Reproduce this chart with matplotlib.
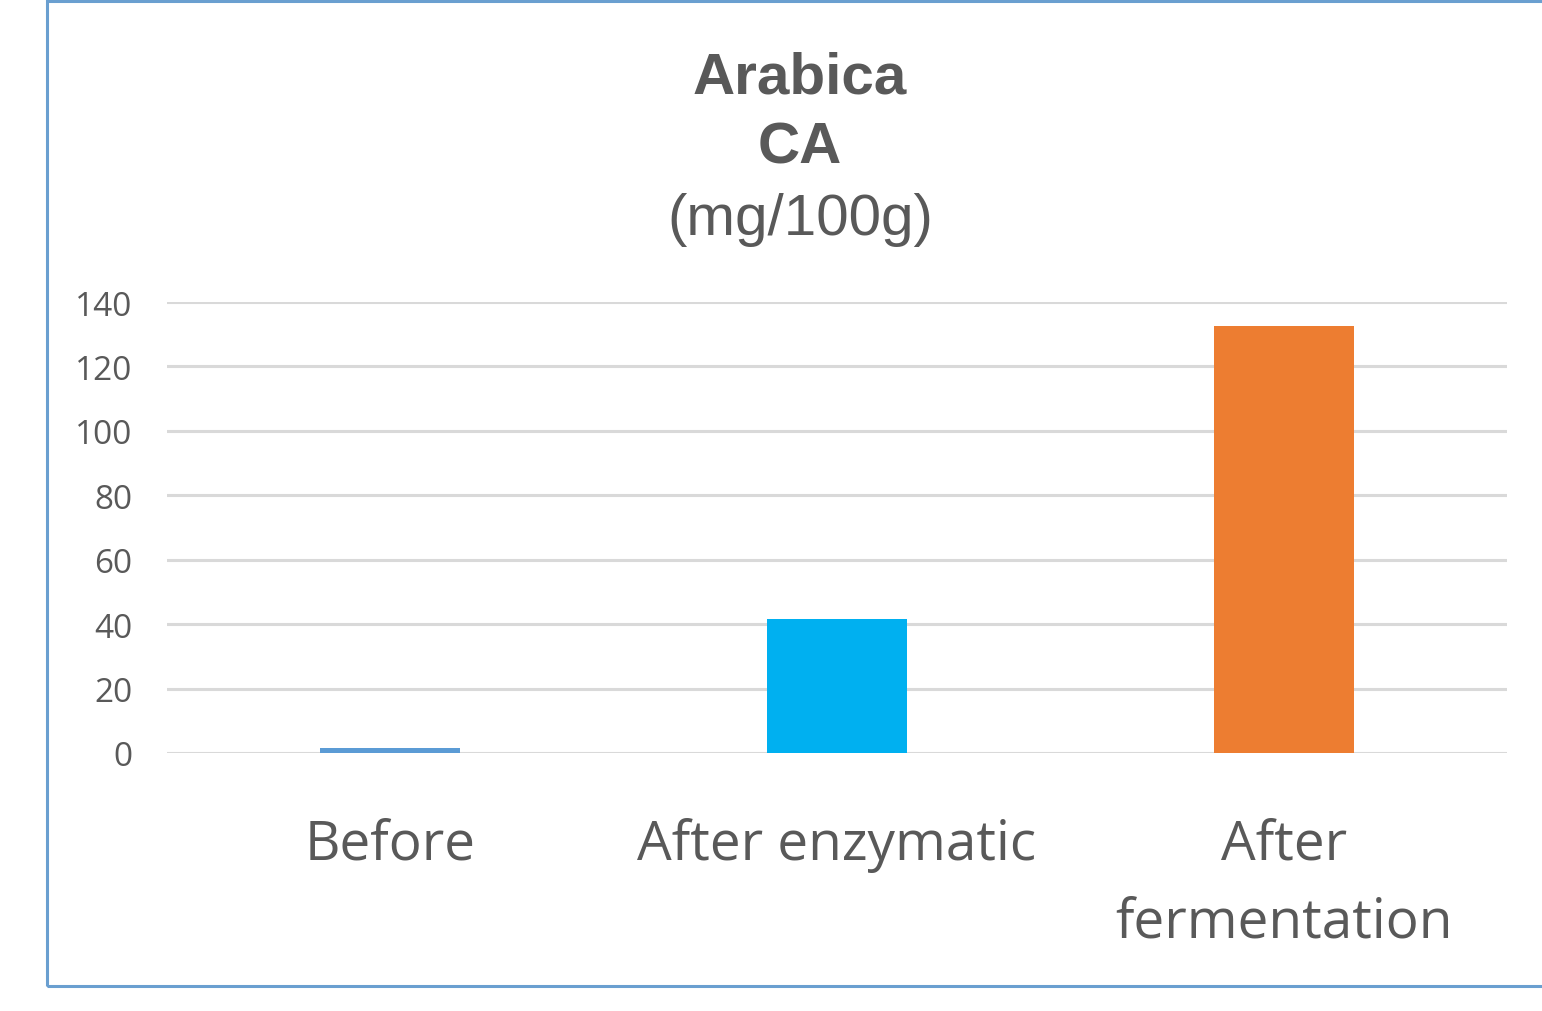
import matplotlib
matplotlib.use("Agg")
import matplotlib.pyplot as plt
from matplotlib.patches import Rectangle

categories = ["Before", "After enzymatic", "After\nfermentation"]
values = [1.5, 41.6, 132.6]
bar_colors = ["#5B9BD5", "#00B0F0", "#ED7D31"]
yticks = [0, 20, 40, 60, 80, 100, 120, 140]

text_color = "#595959"
grid_color = "#D9D9D9"

fig = plt.figure(figsize=(15.42, 10.12), dpi=100)

# chart border (the right side runs off the picture)
fig.patches.append(Rectangle((47 / 1542, 1 - 987 / 1012), 1.1, (987 - 2) / 1012,
                             transform=fig.transFigure, fill=False,
                             edgecolor="#6A9FD0", linewidth=2.2))

ax = fig.add_axes([167 / 1542, 1 - 754 / 1012, (1507 - 167) / 1542, (754 - 303) / 1012])
x = range(len(categories))
ax.bar(x, values, width=0.313, color=bar_colors, zorder=3)
ax.set_xlim(-0.5, len(categories) - 0.5)
ax.set_ylim(0, 140)
ax.set_yticks(yticks)
ax.set_xticks(list(x))
ax.set_xticklabels(categories, fontfamily="Open Sans", fontsize=39.5,
                   color=text_color, linespacing=1.55)
ax.set_yticklabels([str(t) for t in yticks], fontfamily="Open Sans",
                   fontsize=24, color=text_color)
ax.tick_params(axis="x", length=0, pad=46)
ax.tick_params(axis="y", length=0, pad=25)
ax.grid(axis="y", color=grid_color, linewidth=2.2, zorder=0)
for s in ax.spines.values():
    s.set_visible(False)

# title in three lines
fig.text(800 / 1542, 1 - 93 / 1012, "Arabica", ha="center", va="baseline",
         fontfamily="Liberation Sans", fontweight="bold", fontsize=42, color=text_color)
fig.text(800 / 1542, 1 - 163 / 1012, "CA", ha="center", va="baseline",
         fontfamily="Liberation Sans", fontweight="bold", fontsize=42, color=text_color)
fig.text(800 / 1542, 1 - 235 / 1012, "(mg/100g)", ha="center", va="baseline",
         fontfamily="Liberation Sans", fontsize=42, color=text_color)

fig.savefig("out.png", dpi=100)
